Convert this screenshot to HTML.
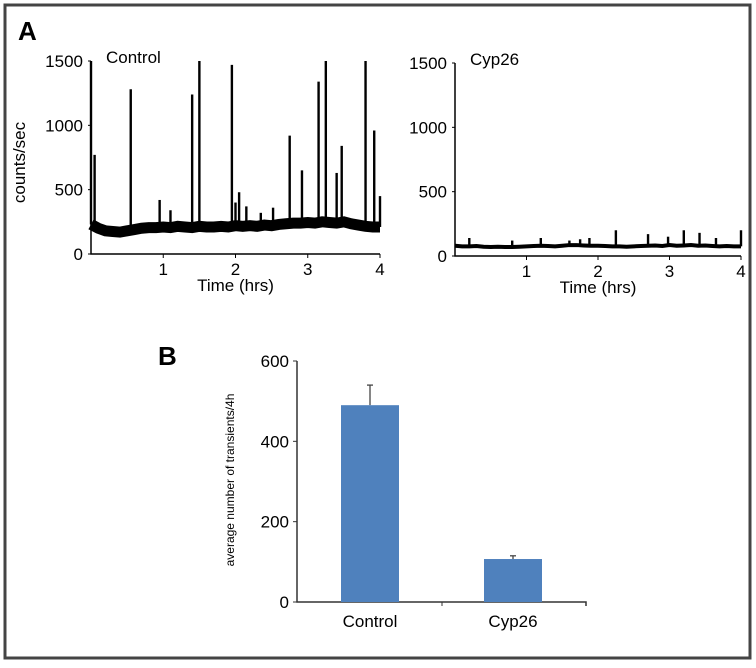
<!DOCTYPE html>
<html><head><meta charset="utf-8"><style>
html,body{margin:0;padding:0;background:#fff}
svg{display:block;font-family:"Liberation Sans",Arial,sans-serif}
</style></head><body>
<svg id="fig" width="756" height="668" viewBox="0 0 756 668">
<rect x="5" y="5" width="745" height="653" fill="#fff" stroke="#444" stroke-width="3"/>
<text x="18" y="40" font-size="26" font-weight="bold">A</text>
<text x="158" y="365" font-size="26" font-weight="bold">B</text>
<g id="left"></g>
<g id="right"></g>
<g id="bars"></g>
</svg>
<script>
const traceTicksY=[0,500,1000,1500];
const traceTicksX=[1,2,3,4];
const controlBaseline=[230,200,180,175,170,180,190,200,205,205,210,205,215,210,205,215,210,210,215,210,220,215,220,215,225,220,230,235,240,240,245,240,250,245,240,250,235,225,215,210,210];
const controlSpikeT=[0.0,0.05,0.55,0.95,1.1,1.4,1.5,1.95,2.0,2.05,2.15,2.35,2.52,2.75,2.92,3.15,3.25,3.4,3.47,3.8,3.92,4.0];
const controlSpikeV=[1500,770,1280,420,340,1240,1500,1470,400,480,370,320,360,920,650,1340,1500,630,840,1500,960,450];
const cypBaseline=[80,75,75,78,72,70,72,70,70,72,75,78,80,78,75,80,85,85,82,80,80,78,75,75,72,75,78,80,82,78,85,80,82,85,80,82,78,75,78,75,75];
const cypSpikeT=[0.2,0.8,1.2,1.6,1.75,1.88,2.25,2.7,2.98,3.2,3.42,3.65,4.0];
const cypSpikeV=[140,120,140,120,130,140,200,170,150,200,180,140,200];
const barCats=["Control","Cyp26"];
const barVals=[490,107];
const barErr=[50,8];
const barTicks=[0,200,400,600];
const NS="http://www.w3.org/2000/svg";
function mk(p,t,a){const e=document.createElementNS(NS,t);for(const k in a)e.setAttribute(k,a[k]);p.appendChild(e);return e;}
function trace(gid,x0,x1,y0,y1,title,base,sT,sV,ylab){
  const g=document.getElementById(gid);
  const sx=v=>x0+(x1-x0)*v/4, sy=v=>y0-(y0-y1)*v/1500;
  let ax=mk(g,'path',{d:`M${x0},${y1} V${y0} H${x1}`,fill:'none',stroke:'#000','stroke-width':1.5});
  
  traceTicksY.forEach(v=>{mk(g,'line',{x1:x0-3,x2:x0,y1:sy(v),y2:sy(v),stroke:'#000'});
    let t=mk(g,'text',{x:x0-8,y:sy(v)+6,'font-size':17,'text-anchor':'end'});t.textContent=v;
    });
  traceTicksX.forEach(v=>{mk(g,'line',{x1:sx(v),x2:sx(v),y1:y0,y2:y0+4,stroke:'#000'});
    let t=mk(g,'text',{x:sx(v),y:y0+21,'font-size':17,'text-anchor':'middle'});t.textContent=v;
    });
  let xt=mk(g,'text',{x:(x0+x1)/2,y:y0+37,'font-size':17,'text-anchor':'middle'});xt.textContent='Time (hrs)';
  
  let tt=mk(g,'text',{x:x0+15,y:y1+2,'font-size':17});tt.textContent=title;
  
  if(ylab){let yt=mk(g,'text',{transform:`translate(25,${(y0+y1)/2+5}) rotate(-90)`,'font-size':17,'text-anchor':'middle'});yt.textContent=ylab;
    }
  const pts=base.map((v,i)=>`${sx(i*0.1)},${sy(v)}`).join(' ');
  let bl=mk(g,'polyline',{points:pts,fill:'none',stroke:'#000','stroke-width':gid==='left'?11:4,'stroke-linejoin':'miter'});
  
  sT.forEach((t,i)=>{const b=base[Math.min(40,Math.round(t*10))];
    let s=mk(g,'line',{x1:sx(t),x2:sx(t),y1:sy(b),y2:sy(sV[i]),stroke:'#000','stroke-width':2.4});
    });
}
trace('left',91,380,254,61,'Control',controlBaseline,controlSpikeT,controlSpikeV,'counts/sec');
trace('right',455,741,256,63,'Cyp26',cypBaseline,cypSpikeT,cypSpikeV,null);
(function(){
  const g=document.getElementById('bars');
  const x0=297,x1=586,y0=602,y1=361;
  const sy=v=>y0-(y0-y1)*v/600;
  const cx=[370,513],bw=58;
  let ax=mk(g,'path',{d:`M${x0},${y1} V${y0} H${x1} V${y0+4}`,fill:'none',stroke:'#333','stroke-width':1.5});
  
  mk(g,'line',{x1:442,x2:442,y1:y0,y2:y0+4,stroke:'#333'});
  barTicks.forEach(v=>{mk(g,'line',{x1:x0-4,x2:x0,y1:sy(v),y2:sy(v),stroke:'#333'});
    let t=mk(g,'text',{x:x0-8,y:sy(v)+6,'font-size':17,'text-anchor':'end'});t.textContent=v;
    });
  let yt=mk(g,'text',{transform:`translate(234,480) rotate(-90)`,'font-size':12,'text-anchor':'middle'});yt.textContent='average number of transients/4h';
  
  barCats.forEach((c,i)=>{
    let e=mk(g,'line',{x1:cx[i],x2:cx[i],y1:sy(barVals[i]),y2:sy(barVals[i]+barErr[i]),stroke:'#444','stroke-width':1.3});
    
    mk(g,'line',{x1:cx[i]-3,x2:cx[i]+3,y1:sy(barVals[i]+barErr[i]),y2:sy(barVals[i]+barErr[i]),stroke:'#444','stroke-width':1.3});
    let r=mk(g,'rect',{x:cx[i]-bw/2,y:sy(barVals[i]),width:bw,height:y0-sy(barVals[i]),fill:'#4f81bd'});
    
    let t=mk(g,'text',{x:cx[i],y:y0+25,'font-size':17,'text-anchor':'middle'});t.textContent=c;
    
  });
})();
</script>
</body></html>
